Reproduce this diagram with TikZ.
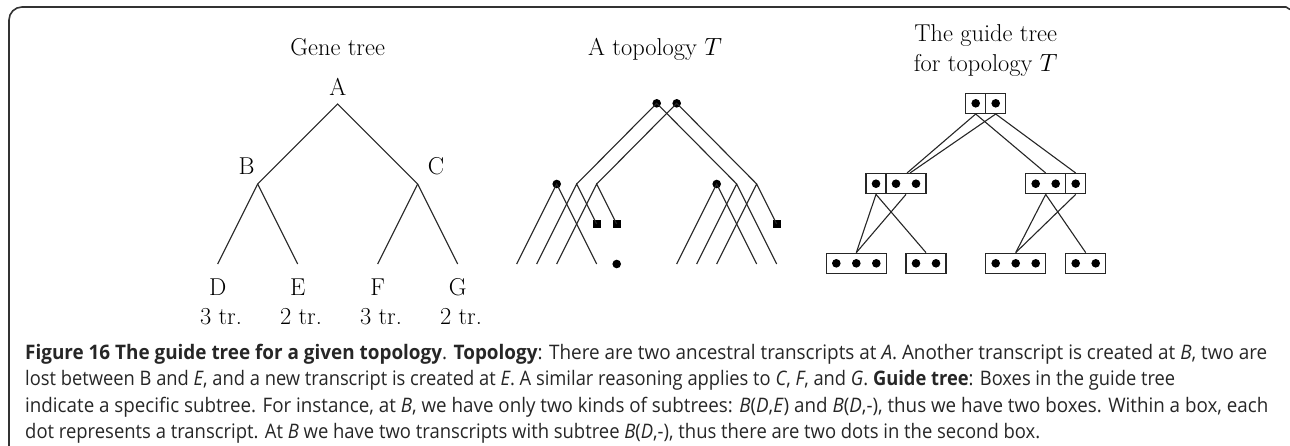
\documentclass[tikz,border=0pt]{standalone}
\usepackage{graphicx}
\usepackage{fontspec}
\newfontfamily\capfont{Open Sans}
\begin{document}
\begin{tikzpicture}[x=1pt,y=-1pt,
  lbl/.style={font=\fontsize{24.4}{30}\selectfont, inner sep=0, anchor=base},
  conn/.style={line width=1.1pt, black!85},
  tdot/.style={circle, fill=black, inner sep=0, minimum size=8.6pt},
  tsq/.style={rectangle, fill=black, inner sep=0, minimum size=8pt},
  cellbox/.style={draw, line width=1.1pt, black!85, inner sep=0, minimum height=20.3pt},
  gdot/.style={circle, fill=black, inner sep=0, minimum size=8.6pt},
  captext/.style={font=\capfont\fontsize{20}{25}\selectfont, inner sep=0, anchor=base west, text=black!85},
  frameline/.style={line width=1.6pt, black!80}]
\useasboundingbox (0,0) rectangle (1290,445);
% frame
\draw[frameline] (9,446) -- (9,20) arc[start angle=180, end angle=270, radius=13] -- (1286,7) -- (1290,9.5);

% ---------- Gene tree ----------
\node[lbl] (tGene) at (337.7,55) {Gene tree};
\coordinate (gA) at (337.7,104);
\coordinate (gB) at (257.7,184);
\coordinate (gC) at (417.7,184);
\coordinate (gD) at (217.7,264);
\coordinate (gE) at (297.7,264);
\coordinate (gF) at (377.7,264);
\coordinate (gG) at (457.7,264);
\draw[conn] (gD) -- (gB) -- (gA) -- (gC) -- (gG);
\draw[conn] (gB) -- (gE);
\draw[conn] (gC) -- (gF);
\node[lbl] (lA) at (337.7,95) {A};
\node[lbl] (lB) at (246.7,174) {B};
\node[lbl] (lC) at (436,174) {C};
\node[lbl] (lD) at (217.7,295) {D};
\node[lbl] (lE) at (297.7,295) {E};
\node[lbl] (lF) at (377.7,295) {F};
\node[lbl] (lG) at (457.7,295) {G};
\node[lbl] (nD) at (221,324) {3 tr.};
\node[lbl] (nE) at (301,324) {2 tr.};
\node[lbl] (nF) at (381,324) {3 tr.};
\node[lbl] (nG) at (461,324) {2 tr.};

% ---------- Topology ----------
\node[lbl, anchor=base west] (tTop) at (588,55) {A topology $T$};
\coordinate (b1) at (576.7,184);
\coordinate (b2) at (596.7,184);
\coordinate (c1) at (736.7,184);
\coordinate (c2) at (756.7,184);
\coordinate (l1) at (516.7,264);
\coordinate (l2) at (536.7,264);
\coordinate (l3) at (556.7,264);
\coordinate (l4) at (596.7,264);
\coordinate (r1) at (676.7,264);
\coordinate (r2) at (696.7,264);
\coordinate (r3) at (716.7,264);
\coordinate (r4) at (756.7,264);
\coordinate (r5) at (776.7,264);
\node[tdot] (t1) at (656.7,103.3) {};
\node[tdot] (t2) at (676.7,103.3) {};
\node[tdot] (b0) at (556.7,184) {};
\node[tdot] (c0) at (716.7,184) {};
\node[tsq] (s1) at (596.7,224) {};
\node[tsq] (s2) at (616.7,224) {};
\node[tsq] (s3) at (776.7,224) {};
\node[tdot] (e0) at (616.7,264) {};
\draw[conn] (b1) -- (t1.center) -- (c1);
\draw[conn] (b2) -- (t2.center) -- (c2);
\draw[conn] (l1) -- (b0.center) -- (l4);
\draw[conn] (l2) -- (b1) -- (s1.center);
\draw[conn] (l3) -- (b2) -- (s2.center);
\draw[conn] (r1) -- (c0.center) -- (r4);
\draw[conn] (r2) -- (c1) -- (r5);
\draw[conn] (r3) -- (c2) -- (s3.center);

% ---------- Guide tree ----------
\node[lbl] (tGuide1) at (985.7,41.7) {The guide tree};
\node[lbl] (tGuide2) at (985.7,71.7) {for topology $T$};
% top box
\node[cellbox, minimum width=20pt] (g0a) at (975.7,103.3) {};
\node[cellbox, minimum width=20pt] (g0b) at (995.7,103.3) {};
\node[gdot] at (975.7,103.3) {};
\node[gdot] at (995.7,103.3) {};
% B box
\node[cellbox, minimum width=20pt] (gBa) at (876,183.7) {};
\node[cellbox, minimum width=40pt] (gBb) at (906,183.7) {};
\node[gdot] at (876,183.7) {};
\node[gdot] at (896,183.7) {};
\node[gdot] at (916,183.7) {};
% C box
\node[cellbox, minimum width=40pt] (gCa) at (1045.7,183.7) {};
\node[cellbox, minimum width=20pt] (gCb) at (1075.7,183.7) {};
\node[gdot] at (1035.7,183.7) {};
\node[gdot] at (1055.7,183.7) {};
\node[gdot] at (1075.7,183.7) {};
% leaf boxes
\node[cellbox, minimum width=60pt] (gD) at (856.3,263.3) {};
\node[cellbox, minimum width=40pt] (gE) at (926,263.3) {};
\node[cellbox, minimum width=60pt] (gF) at (1015.7,263.3) {};
\node[cellbox, minimum width=40pt] (gG) at (1085.7,263.3) {};
\foreach \x in {836.3,856.3,876.3,916,936,995.7,1015.7,1035.7,1075.7,1095.7}
  \node[gdot] at (\x,263.3) {};
\draw[conn] (g0a.south) -- ([xshift=1pt]gBb.north);
\draw[conn] (g0b.south) -- ([xshift=4pt]gBb.north);
\draw[conn] (g0a.south) -- (gCa.north);
\draw[conn] (g0b.south) -- (gCb.north);
\draw[conn] (gBa.south) -- (gD.north);
\draw[conn] (gBa.south) -- (gE.north);
\draw[conn] (gBb.south) -- (gD.north);
\draw[conn] (gCa.south) -- (gF.north);
\draw[conn] (gCa.south) -- (gG.north);
\draw[conn] (gCb.south) -- (gF.north);

% ---------- Caption ----------
\node[captext] (cap1) at (25,359) {\resizebox{1242pt}{\height}{\textbf{Figure 16 The guide tree for a given topology}. \textbf{Topology}: There are two ancestral transcripts at \textit{A}. Another transcript is created at \textit{B}, two are}};
\node[captext] (cap2) at (25,385.5) {\resizebox{1150pt}{\height}{lost between B and \textit{E}, and a new transcript is created at \textit{E}. A similar reasoning applies to \textit{C}, \textit{F}, and \textit{G}. \textbf{Guide tree}: Boxes in the guide tree}};
\node[captext] (cap3) at (25,412) {\resizebox{1243pt}{\height}{indicate a specific subtree. For instance, at \textit{B}, we have only two kinds of subtrees: \textit{B}(\textit{D},\textit{E}) and \textit{B}(\textit{D},-), thus we have two boxes. Within a box, each}};
\node[captext] (cap4) at (25,438.5) {\resizebox{1015pt}{\height}{dot represents a transcript. At \textit{B} we have two transcripts with subtree \textit{B}(\textit{D},-), thus there are two dots in the second box.}};
\end{tikzpicture}
\end{document}
